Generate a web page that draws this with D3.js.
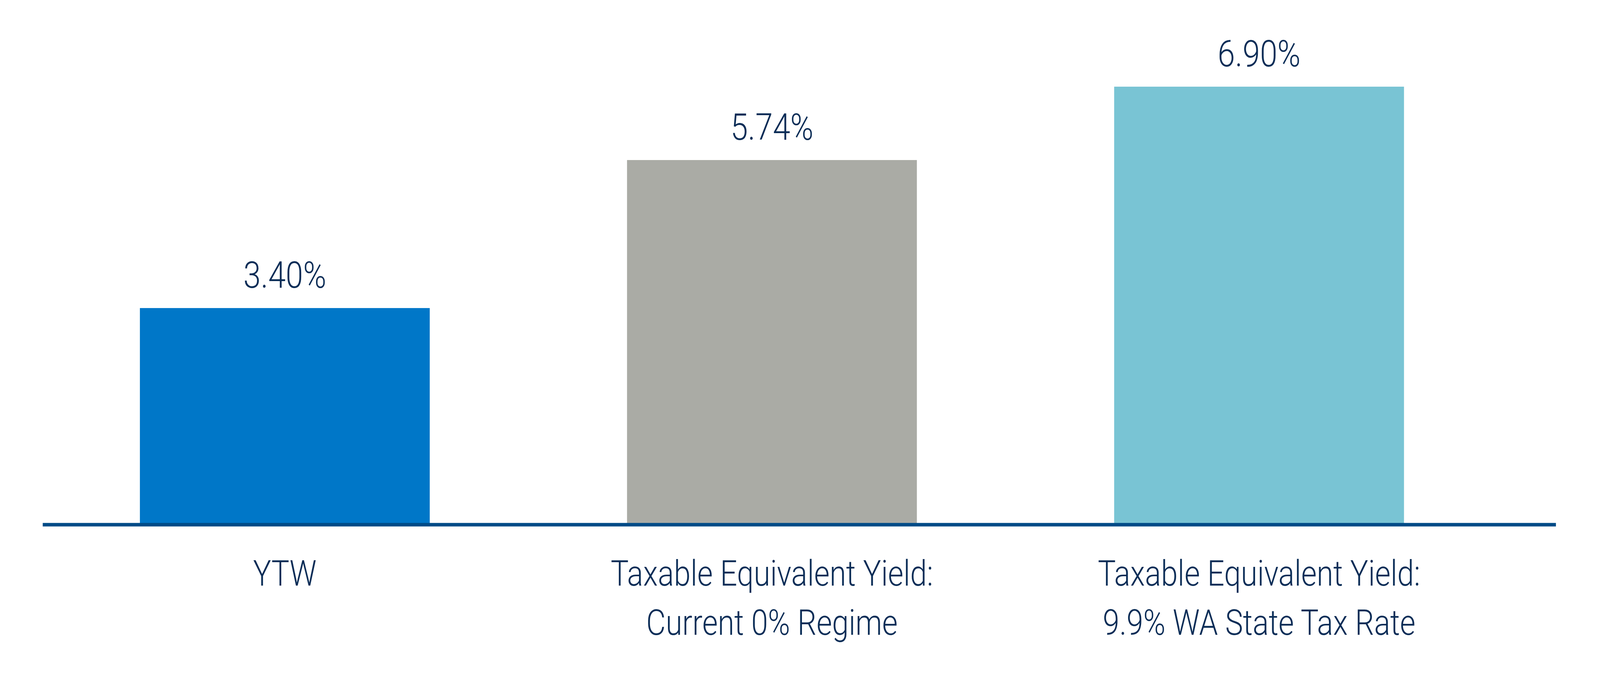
<!DOCTYPE html>
<html><head><meta charset="utf-8">
<script src="https://cdn.jsdelivr.net/npm/d3@7"></script>
<style>html,body{margin:0;padding:0;background:#fff;overflow:hidden}svg{display:block;width:100vw;height:100vh}</style>
</head><body>
<svg id="c" viewBox="0 0 4792 1729" preserveAspectRatio="none"></svg>
<script>
const categories = [["YTW"],["Taxable Equivalent Yield:","Current 0% Regime"],["Taxable Equivalent Yield:","9.9% WA State Tax Rate"]];
const values = [3.40, 5.74, 6.90];
const valueLabels = ["3.40%","5.74%","6.90%"];
const colors = ["#0077c8","#aaaba5","#79c4d4"];

const svg = d3.select("#c");
const baseY = 1340;
const x = d3.scaleBand().domain(d3.range(values.length)).range([419, 4205]).paddingInner(0.405).paddingOuter(0);
const y = d3.scaleLinear().domain([0, 8.27]).range([baseY, 0]);
const font = "Roboto, 'Noto Sans', sans-serif", ink = "#0b2d57";

svg.selectAll("rect.bar").data(values).join("rect")
  .attr("x",(d,i)=>x(i)).attr("width",x.bandwidth())
  .attr("y",d=>y(d)).attr("height",d=>baseY-y(d)).attr("fill",(d,i)=>colors[i]);

svg.append("line").attr("x1",128).attr("x2",4660).attr("y1",baseY+4).attr("y2",baseY+4)
  .attr("stroke","#004b87").attr("stroke-width",9);

svg.selectAll("text.v").data(values).join("text")
  .attr("x",(d,i)=>x(i)+x.bandwidth()/2).attr("y",d=>y(d)-52)
  .attr("text-anchor","middle").attr("font-family",font).attr("font-weight",300)
  .attr("font-size",94).attr("fill",ink).text((d,i)=>valueLabels[i]);

categories.forEach((lines,i)=>{
  lines.forEach((t,j)=>{
    svg.append("text").attr("x",x(i)+x.bandwidth()/2).attr("y",1500+j*126)
      .attr("text-anchor","middle").attr("font-family",font).attr("font-weight",300)
      .attr("font-size",90).attr("fill",ink).text(t);
  });
});
</script>
</body></html>
